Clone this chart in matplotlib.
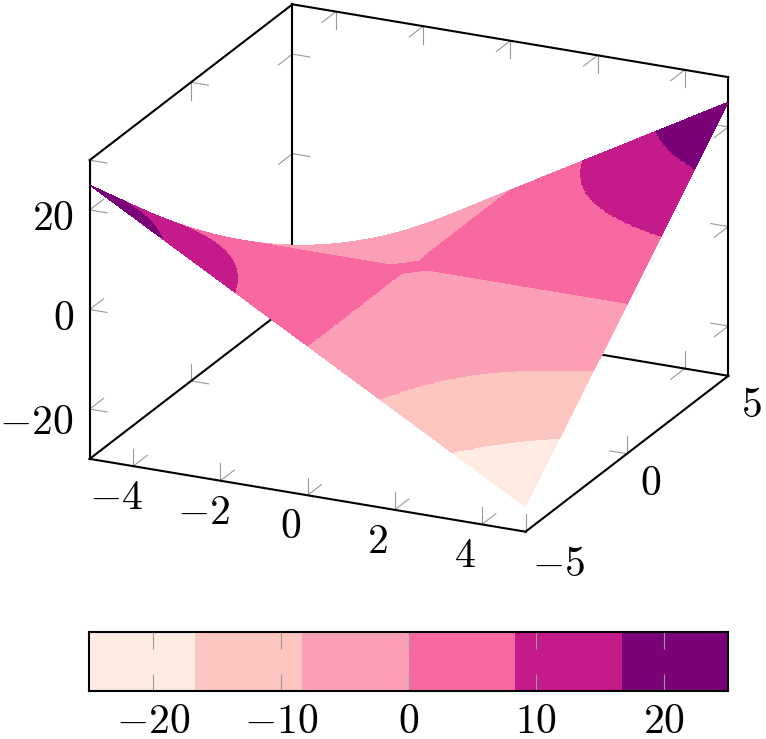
import numpy as np
import matplotlib
matplotlib.use("Agg")
import matplotlib.pyplot as plt
from matplotlib.colors import ListedColormap, BoundaryNorm
from mpl_toolkits.mplot3d import proj3d
from mpl_toolkits.mplot3d.art3d import Poly3DCollection

plt.rcParams['mathtext.fontset'] = 'cm'

# Surface heights, rows are y, columns are x
x_table = [-5, -2.5, 0, 2.5, 5]
y_table = [-5, -2.5, 0, 2.5, 5]
z_table = np.array([
    [25, 12.5, 0, -12.5, -25],
    [12.5, 6.25, 0, -6.25, -12.5],
    [0, 0, 0, 0, 0],
    [-12.5, -6.25, 0, 6.25, 12.5],
    [-25, -12.5, 0, 12.5, 25],
])

x_ticks = [-4, -2, 0, 2, 4]
y_ticks = [-5, 0, 5]
z_ticks = [-20, 0, 20]
bar_ticks = [-20, -10, 0, 10, 20]

band_edges = [-25, -50 / 3, -25 / 3, 0, 25 / 3, 50 / 3, 25]
band_colors = ['#feebe2', '#fcc5c0', '#fa9fb5', '#f768a1', '#c51b8a', '#7a0177']

samples = 25
black_lw = 1.5
tick_color = '#999999'
font_size = 30
subdiv = 4


def surface_z(x, y):
    rows = np.array([np.interp(x, x_table, r) for r in z_table])
    return np.round(np.array([np.interp(y, y_table, c) for c in rows.T]).T, 9)


def clip_side(poly, level, keep_above):
    out = []
    for i in range(len(poly)):
        a, b = poly[i], poly[(i + 1) % len(poly)]
        a_in = a[2] >= level if keep_above else a[2] <= level
        b_in = b[2] >= level if keep_above else b[2] <= level
        if a_in:
            out.append(a)
        if a_in != b_in:
            t = (level - a[2]) / (b[2] - a[2])
            out.append(tuple(a[k] + t * (b[k] - a[k]) for k in range(3)))
    return out


def area_xy(poly):
    p = np.array(poly)
    return 0.5 * abs(np.dot(p[:, 0], np.roll(p[:, 1], 1)) - np.dot(p[:, 1], np.roll(p[:, 0], 1)))


def cell_tris(gx, gy, gz):
    tris = []
    for j in range(len(gy) - 1):
        for i in range(len(gx) - 1):
            p00 = (gx[i], gy[j], gz[j, i])
            p10 = (gx[i + 1], gy[j], gz[j, i + 1])
            p01 = (gx[i], gy[j + 1], gz[j + 1, i])
            p11 = (gx[i + 1], gy[j + 1], gz[j + 1, i + 1])
            tris.append([p00, p10, p11])
            tris.append([p00, p11, p01])
    return tris


def band_polys(tris):
    polys, colors = [], []
    for tri in tris:
        zs = [v[2] for v in tri]
        for b in range(len(band_colors)):
            lo, hi = band_edges[b], band_edges[b + 1]
            if max(zs) < lo or min(zs) > hi:
                continue
            poly = clip_side(tri, lo, True)
            if len(poly) >= 3:
                poly = clip_side(poly, hi, False)
            if len(poly) < 3 or area_xy(poly) < 1e-9:
                continue
            mean_z = np.mean([v[2] for v in poly])
            if mean_z < lo or (mean_z >= hi and b < len(band_colors) - 1):
                continue
            polys.append(poly)
            colors.append(band_colors[b])
    return polys, colors


# sampled mesh; cells touching the middle stay whole (that makes the neck at the centre),
# the others are split so the curved band edges stay smooth
grid_x = np.linspace(x_table[0], x_table[-1], samples)
grid_y = np.linspace(y_table[0], y_table[-1], samples)
tris = []
for j in range(samples - 1):
    for i in range(samples - 1):
        touches_middle = grid_x[i] * grid_x[i + 1] <= 0 and grid_y[j] * grid_y[j + 1] <= 0
        n = 1 if touches_middle else subdiv
        sx = np.linspace(grid_x[i], grid_x[i + 1], n + 1)
        sy = np.linspace(grid_y[j], grid_y[j + 1], n + 1)
        tris += cell_tris(sx, sy, surface_z(sx, sy))

fig = plt.figure(figsize=(7.66, 7.39), dpi=100)
W, H = 766, 739

side = 739
ax = fig.add_axes([29.5 / W, 91.5 / H, side / W, side / H], projection='3d', proj_type='ortho')
ax.set_axis_off()
ax.computed_zorder = False
ax.view_init(elev=21, azim=-65)
ax.set_box_aspect((481, 480, 320), zoom=729 / side)
ax.set_xlim(-5, 5, view_margin=0)
ax.set_ylim(-5, 5, view_margin=0)
ax.set_zlim(-30, 30, view_margin=0)

# Box edges, only the ones the reference shows
box_edges = [
    ((-5, 5), (-5, -5), (-30, -30)),
    ((5, 5), (-5, 5), (-30, -30)),
    ((-5, -5), (-5, 5), (-30, -30)),
    ((-5, 5), (5, 5), (-30, -30)),
    ((-5, -5), (-5, -5), (-30, 30)),
    ((-5, -5), (5, 5), (-30, 30)),
    ((5, 5), (5, 5), (-30, 30)),
    ((-5, -5), (-5, 5), (30, 30)),
    ((-5, 5), (5, 5), (30, 30)),
]
for ex, ey, ez in box_edges:
    ax.plot(ex, ey, ez, color='black', lw=black_lw, zorder=2, solid_capstyle='projecting')

# tick lengths in data units, about 17 px on screen
dx, dy, dz = 0.4, 0.69, 3.5


def tick(x, y, z, ddx=0, ddy=0, ddz=0):
    ax.plot([x, x + ddx], [y, y + ddy], [z, z + ddz], color=tick_color, lw=0.8, zorder=1)


for t in x_ticks:
    tick(t, -5, -30, ddz=dz)
    tick(t, -5, -30, ddy=dy)
    tick(t, 5, -30, ddz=dz)
    tick(t, 5, -30, ddy=-dy)
    tick(t, 5, 30, ddz=-dz)
    tick(t, 5, 30, ddy=-dy)
for t in y_ticks:
    tick(-5, t, -30, ddz=dz)
    tick(-5, t, -30, ddx=dx)
    tick(5, t, -30, ddz=dz)
    tick(5, t, -30, ddx=-dx)
    tick(-5, t, 30, ddz=-dz)
    tick(-5, t, 30, ddx=dx)
for t in z_ticks:
    tick(-5, -5, t, ddx=dx)
    tick(-5, -5, t, ddy=dy)
    tick(-5, 5, t, ddx=dx)
    tick(-5, 5, t, ddy=-dy)
    tick(5, 5, t, ddx=-dx)
    tick(5, 5, t, ddy=-dy)

polys, colors = band_polys(tris)
surf = Poly3DCollection(polys, facecolors=colors, edgecolors='none', linewidths=0,
                        antialiased=False, zsort='average', zorder=3)
ax.add_collection3d(surf, autolim=False)


def label3d(text, x, y, z, off_x, off_y, ha='center'):
    px, py, _ = proj3d.proj_transform(x, y, z, ax.get_proj())
    ax.annotate(text, xy=(px, py), xytext=(off_x, -off_y), textcoords='offset pixels',
                ha=ha, va='center', fontsize=font_size, annotation_clip=False)


for t in x_ticks:
    label3d(f'${t}$', t, -5, -30, -17, 31)
for t in y_ticks:
    label3d(f'${t}$', 5, t, -30, 6 if t < 0 else 13, 32 if t < 0 else 29, ha='left')
for t in z_ticks:
    label3d(f'${t}$', -5, -5, t, -16, 8 if t >= 0 else 13, ha='right')

# Colour bar under the plot
cax = fig.add_axes([89 / W, (H - 691) / H, 639 / W, 59 / H])
cmap = ListedColormap(band_colors)
norm = BoundaryNorm(band_edges, cmap.N)
mids = [(band_edges[i] + band_edges[i + 1]) / 2 for i in range(len(band_colors))]
cax.pcolormesh(band_edges, [0, 1], [mids], cmap=cmap, norm=norm)
cax.set_xlim(band_edges[0], band_edges[-1])
cax.set_ylim(0, 1)
cax.set_yticks([])
cax.set_xticks(bar_ticks)
cax.set_xticklabels([f'${t}$' for t in bar_ticks], fontsize=font_size)
cax.tick_params(axis='x', direction='in', top=True, bottom=True, length=12.2,
                width=0.8, color=tick_color, pad=6.5)
for spine in cax.spines.values():
    spine.set_linewidth(black_lw)

fig.savefig('out.png', dpi=100)
